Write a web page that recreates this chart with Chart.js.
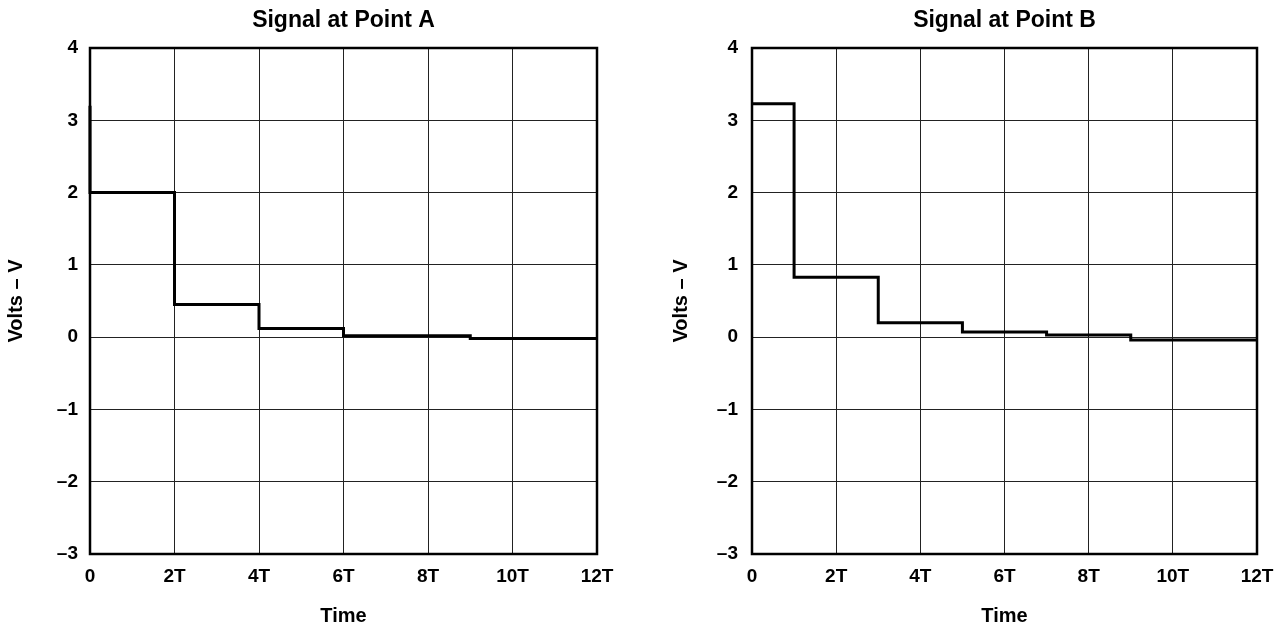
<!DOCTYPE html>
<html>
<head>
<meta charset="utf-8">
<script src="https://cdn.jsdelivr.net/npm/chart.js@4"></script>
<style>
    body { margin: 0; background: #fff; }
    .box { position: absolute; top: 0; width: 644px; height: 627px; }
    #boxA { left: 0; }
    #boxB { left: 644px; }
</style>
</head>
<body>
<div class="box" id="boxA"><canvas id="chart-a"></canvas></div>
<div class="box" id="boxB"><canvas id="chart-b"></canvas></div>
<script>
// time in units of T, volts
const timeA = [0, 0, 2, 4, 6, 9, 12];
const voltsA = [3.2, 2.0, 0.45, 0.12, 0.02, -0.02, -0.02];
const timeB = [0, 1, 3, 5, 7, 9, 12];
const voltsB = [3.23, 0.83, 0.2, 0.07, 0.03, -0.04, -0.04];
const xTicks = [0, 2, 4, 6, 8, 10, 12];
const yTicks = [4, 3, 2, 1, 0, -1, -2, -3];

const FONT = "'Liberation Sans', Arial, Helvetica, sans-serif";

const framePlugin = {
    id: 'frame',
    beforeDatasetsDraw(chart) {
        const {ctx, chartArea} = chart;
        ctx.save();
        ctx.strokeStyle = '#000';
        ctx.lineWidth = 2.5;
        ctx.strokeRect(chartArea.left, chartArea.top, chartArea.right - chartArea.left, chartArea.bottom - chartArea.top);
        ctx.restore();
    }
};

function makeChart(canvas, title, times, volts, layout) {
    const points = times.map((t, i) => ({x: t, y: volts[i]}));
    return new Chart(canvas, {
        type: 'line',
        data: {
            datasets: [{
                data: points,
                stepped: 'before',
                borderColor: '#000',
                borderWidth: 3,
                borderJoinStyle: 'miter',
                pointRadius: 0,
                fill: false,
                clip: false
            }]
        },
        options: {
            responsive: true,
            maintainAspectRatio: false,
            animation: false,
            layout: {padding: {left: layout.padLeft, right: layout.padRight, top: 0, bottom: 0}},
            plugins: {
                legend: {display: false},
                tooltip: {enabled: false},
                title: {
                    display: true,
                    text: title,
                    fullSize: false,
                    color: '#000',
                    font: {family: FONT, size: 23, weight: 'bold', lineHeight: 1.2},
                    padding: {top: 6.5, bottom: 13.9}
                }
            },
            scales: {
                x: {
                    type: 'linear',
                    min: 0,
                    max: 12,
                    afterBuildTicks: scale => { scale.ticks = xTicks.map(v => ({value: v})); },
                    afterFit: scale => { scale.height = 627 - 554; },
                    grid: {color: '#222', lineWidth: 1, drawTicks: false},
                    border: {display: false},
                    ticks: {
                        color: '#000',
                        padding: 11,
                        maxRotation: 0,
                        font: {family: FONT, size: 19, weight: 'bold'},
                        callback: v => v === 0 ? '0' : v + 'T'
                    },
                    title: {
                        display: true,
                        text: 'Time',
                        color: '#000',
                        font: {family: FONT, size: 20, weight: 'bold', lineHeight: 1},
                        padding: {top: 0, bottom: 0.5}
                    }
                },
                y: {
                    type: 'linear',
                    min: -3,
                    max: 4,
                    afterBuildTicks: scale => { scale.ticks = yTicks.map(v => ({value: v})); },
                    afterFit: scale => { scale.width = layout.yWidth; },
                    grid: {color: '#222', lineWidth: 1, drawTicks: false},
                    border: {display: false},
                    ticks: {
                        color: '#000',
                        padding: layout.tickPad,
                        font: {family: FONT, size: 19, weight: 'bold'},
                        callback: v => v < 0 ? '\u2013' + Math.abs(v) : String(v)
                    },
                    title: {
                        display: true,
                        text: 'Volts \u2013 V',
                        color: '#000',
                        font: {family: FONT, size: 20, weight: 'bold', lineHeight: 1},
                        padding: {top: 6, bottom: 0}
                    }
                }
            }
        },
        plugins: [framePlugin]
    });
}

makeChart(document.getElementById('chart-a'), 'Signal at Point A', timeA, voltsA,
    {padLeft: 0, padRight: 47, yWidth: 90, tickPad: 12});
makeChart(document.getElementById('chart-b'), 'Signal at Point B', timeB, voltsB,
    {padLeft: 21, padRight: 31, yWidth: 87, tickPad: 14});
</script>
</body>
</html>
